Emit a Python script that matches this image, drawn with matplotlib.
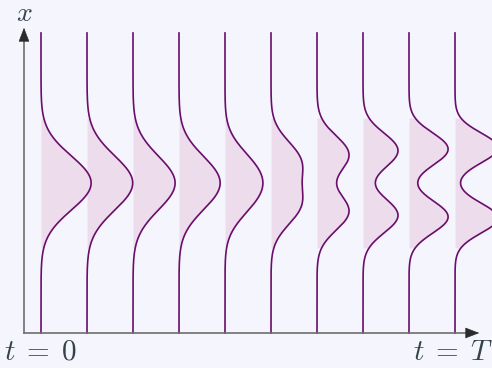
import numpy as np
import matplotlib
matplotlib.use("Agg")
import matplotlib.pyplot as plt

plt.rcParams['mathtext.fontset'] = 'cm'

# one profile per time step, each a pair of bumps at +/- m
times = [0, 1, 2, 3, 4, 5, 6, 7, 8, 9]
centres = [0.0, 0.10, 0.20, 0.33, 0.47, 0.73, 0.95, 1.08, 1.13, 1.17]
widths = [0.90, 0.90, 0.87, 0.80, 0.73, 0.67, 0.62, 0.58, 0.54, 0.50]
heights = [0.545, 0.50, 0.47, 0.487, 0.507, 0.613, 0.69, 0.76, 0.85, 0.935]
shade_lim = 2.17
x_lim = 5.0

bg = '#f5f6fd'
line_col = '#6a0d6b'
fill_col = '#ecdcec'
txt_col = '#34434d'

fig = plt.figure(figsize=(4.92, 3.68), dpi=100)
fig.patch.set_facecolor(bg)
ax = fig.add_axes([0, 0, 1, 1])
ax.set_facecolor(bg)
ax.set_xlim(-41 / 46, (492 - 41) / 46)
ax.set_ylim(-185 / 30, 183 / 30)
ax.axis('off')

x = np.linspace(-x_lim, x_lim, 1500)
for t, m, s, h in zip(times, centres, widths, heights):
    f = h * (np.exp(-(x - m) ** 2 / (2 * s ** 2)) + np.exp(-(x + m) ** 2 / (2 * s ** 2)))
    ax.fill_betweenx(x, t, t + f, where=np.abs(x) <= shade_lim,
                     color=fill_col, lw=0, zorder=1)
    ax.plot(t + f, x, color=line_col, lw=1.2, zorder=3)

# axes with arrows
ox, oy = -17 / 46, -x_lim
tx, ty = (482 - 41) / 46, (183 - 25) / 30
ax.plot([ox, tx - 0.3], [oy, oy], color='#6e6e6e', lw=1.2, zorder=4)
ax.plot([ox, ox], [oy, ty - 0.5], color='#6e6e6e', lw=1.2, zorder=4)
ax.annotate('', xy=(tx, oy), xytext=(tx - 0.4, oy),
            arrowprops=dict(arrowstyle='-|>,head_length=0.9,head_width=0.35',
                            color='#2b2b2b', lw=0.5), zorder=5)
ax.annotate('', xy=(ox, ty), xytext=(ox, ty - 0.6),
            arrowprops=dict(arrowstyle='-|>,head_length=0.9,head_width=0.35',
                            color='#2b2b2b', lw=0.5), zorder=5)

ax.text(ox, (183 - 13) / 30, r'$x$', color=txt_col, fontsize=20,
        ha='center', va='center')
ax.text(times[0], (183 - 352) / 30, r'$t\;=\;0$', color=txt_col, fontsize=21,
        ha='center', va='center')
ax.text(times[-1] - 0.04, (183 - 352) / 30, r'$t\;=\;T$', color=txt_col, fontsize=21,
        ha='center', va='center')

fig.savefig('out.png', dpi=100, facecolor=bg)
